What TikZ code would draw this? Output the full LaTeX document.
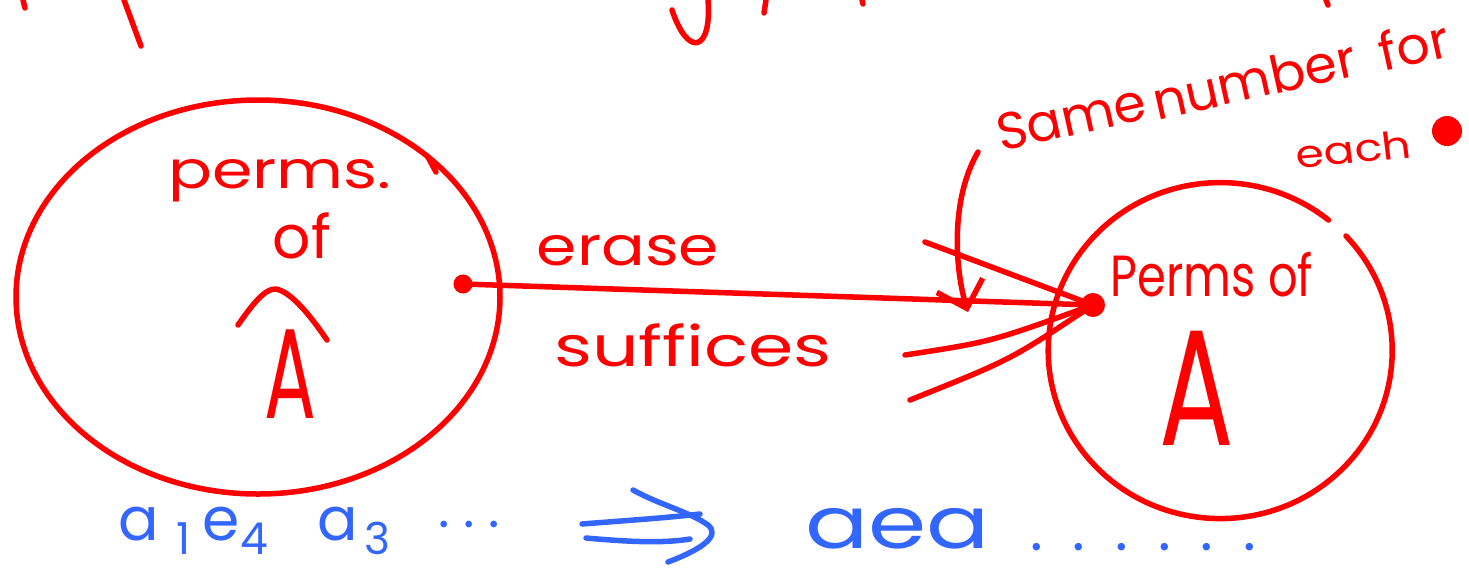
\documentclass[tikz,border=0pt]{standalone}
\usepackage{fontspec}
\setmainfont{Poppins}
\usetikzlibrary{arrows.meta}
\definecolor{ink}{RGB}{255,0,0}
\definecolor{blueink}{RGB}{51,102,255}
\newcommand{\lowsub}[1]{\raisebox{-14pt}{\fontsize{44}{44}\selectfont #1}}
\begin{document}
\begin{tikzpicture}[x=1pt,y=-1pt,
  pen/.style={draw=ink,line width=5.5pt,line cap=round,line join=round},
  bpen/.style={draw=blueink,line width=5.5pt,line cap=round,line join=round},
  hand/.style={inner sep=0pt,anchor=base,text=ink,font=\fontsize{#1}{#1}\selectfont},
  bhand/.style={inner sep=0pt,anchor=base west,text=blueink,font=\fontsize{#1}{#1}\selectfont},
  dotnode/.style={circle,fill=ink,draw=ink,line width=2pt,inner sep=0pt,minimum size=#1}]
\useasboundingbox (0,0) rectangle (1469,571);

% fragments of text cut off at the top
\draw[pen] (124,0) -- (141,46);
\draw[pen] (708,0) .. controls (712,52) and (688,58) .. (672,10);
\draw[pen] (766,0) -- (764,13);
\draw[pen] (862,0) -- (863,4);
\draw[pen] (1326,0) -- (1328,5);
\draw[pen] (23,0) -- (25,8);

% the two sets
\draw[pen] (258,297) ellipse[x radius=242,y radius=197];
\draw[pen] (428,157) -- (436,172);
\draw[pen] (1346,236) arc[start angle=-43,end angle=309,x radius=172,y radius=168];

% left set text
\node[hand=52,xscale=1.25] (perms) at (280,188) {perms.};
\node[hand=60] (of1) at (302,258) {of};
\draw[pen] (238,325) .. controls (252,305) and (265,288) .. (276,289) .. controls (292,292) and (312,318) .. (327,340);
\node[hand=128,xscale=0.6] (A1) at (290,418) {A};

% right set text
\node[hand=58,xscale=0.8] (perms2) at (1212,296) {Perms of};
\node[hand=165,xscale=0.67] (A2) at (1197,445) {A};

% dots
\node[dotnode=17] (ld) at (463,284) {};
\node[dotnode=22] (rd) at (1093,305) {};

% connectors
\draw[pen] (ld) -- (rd);
\coordinate (e1) at (925,242);
\coordinate (e2) at (905,355);
\coordinate (e3) at (910,400);
\draw[pen] (e1) -- (rd);
\draw[pen] (e2) .. controls (990,342) .. (rd);
\draw[pen] (e3) .. controls (1010,360) .. (rd);
\coordinate (c0) at (978,152);
\coordinate (c1) at (968,312);
\draw[pen,-{Straight Barb[length=24pt,width=48pt]}] (c0) .. controls (950,200) and (955,270) .. (c1);

% labels on the connector
\node[hand=54,xscale=1.2] (erase) at (628,265) {erase};
\node[hand=56,xscale=1.3] (suff) at (693,366) {suffices};

% note at top right
\node[hand=52,rotate=12.5] (same1) at (1075,135) {Same};
\node[hand=52,rotate=12.5] (same2) at (1258,98) {number};
\node[hand=52,rotate=12.5] (same3) at (1418,64) {for};
\node[hand=38,xscale=1.2,rotate=6] (each) at (1355,163) {each};
\node[dotnode=28] (bigdot) at (1447,131) {};

% blue line at the bottom
\node[bhand=60] (seq) at (118,540) {a\hspace{18pt}\lowsub{1}\hspace{12pt}e\lowsub{4}\hspace{50pt}a\hspace{6pt}\lowsub{3}};
\node[bhand=54] (dots1) at (438,527) {.\hspace{14pt}.\hspace{14pt}.};
\draw[bpen] (582,524) .. controls (620,521) and (665,518) .. (700,514);
\draw[bpen] (586,538) .. controls (620,541) and (660,544) .. (690,539);
\draw[bpen] (633,490) .. controls (660,505) and (690,512) .. (708,525) .. controls (720,535) and (705,548) .. (668,562);
\node[bhand=72,xscale=1.3] (aea) at (805,548) {aea};
\node[bhand=60] (dots2) at (1030,550) {.\hspace{30pt}.\hspace{30pt}.\hspace{30pt}.\hspace{30pt}.\hspace{30pt}.};
\end{tikzpicture}
\end{document}
